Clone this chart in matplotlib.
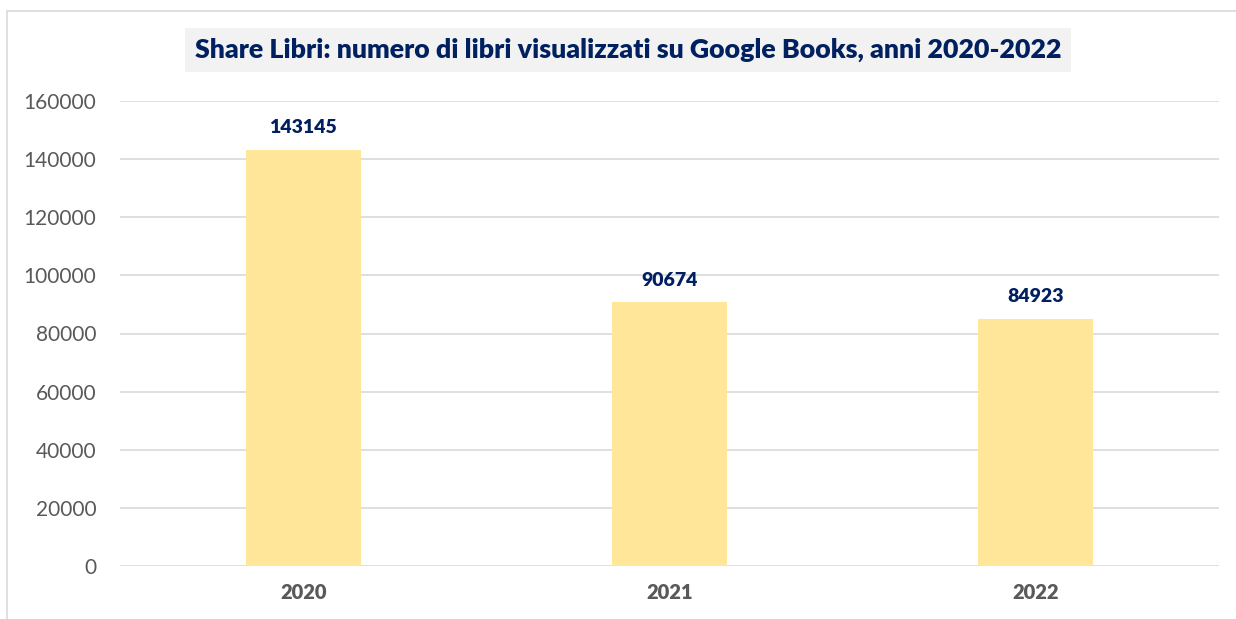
import matplotlib.pyplot as plt
from matplotlib.patches import Rectangle

years = ["2020", "2021", "2022"]
books = [143145, 90674, 84923]
yticks = [0, 20000, 40000, 60000, 80000, 100000, 120000, 140000, 160000]

title = "Share Libri: numero di libri visualizzati su Google Books, anni 2020-2022"

plt.rcParams['font.family'] = ['Lato', 'DejaVu Sans']

fig = plt.figure(figsize=(12.36, 6.19), dpi=100)
W, H = 1236, 619
ax = fig.add_axes([120 / W, 1 - 566 / H, (1219 - 120) / W, (566 - 101) / H])

# outer chart border (runs off the right and bottom edges)
fig.patches.append(Rectangle((7 / W, -0.1), 1.2, 1 - 11 / H + 0.1, transform=fig.transFigure,
                             fill=False, edgecolor='#D9D9D9', linewidth=1.2))

x = range(len(years))
ax.bar(x, books, width=0.314, color='#FFE699', zorder=3)
for i, v in enumerate(books):
    ax.annotate(str(v), (i, v), xytext=(0, 10), textcoords='offset points',
                ha='center', va='bottom', fontsize=14, fontweight='heavy', color='#002060')

ax.set_xlim(-0.5, 2.5)
ax.set_ylim(0, 160000)
ax.set_yticks(yticks)
ax.set_yticklabels([str(t) for t in yticks], fontsize=15, color='#595959')
ax.set_xticks(list(x))
ax.set_xticklabels(years, fontsize=14.5, fontweight='heavy', color='#595959')
ax.tick_params(axis='both', length=0)
ax.tick_params(axis='y', pad=17)
ax.tick_params(axis='x', pad=12)
ax.grid(axis='y', color='#D9D9D9', linewidth=1.2, zorder=0)
for s in ax.spines.values():
    s.set_visible(False)

fig.text(628 / W, 1 - 50 / H, title, ha='center', va='center', fontsize=19.3,
         fontweight='heavy', color='#002060',
         bbox=dict(boxstyle='square,pad=0.35', facecolor='#F2F2F2', edgecolor='none'))

fig.savefig('out.png', dpi=100)
